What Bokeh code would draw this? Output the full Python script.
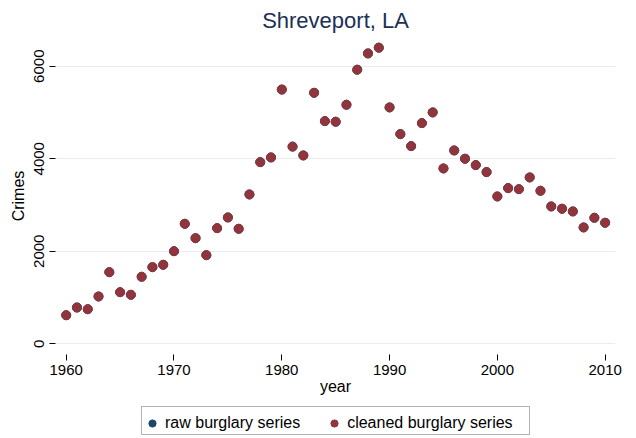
from bokeh.plotting import figure
from bokeh.layouts import column
from bokeh.models import FixedTicker, Range1d, Legend, LegendItem, BoxAnnotation
from bokeh.embed import file_html
from bokeh.resources import INLINE

years = list(range(1960, 2011))
cleaned_burglary = [618, 785, 748, 1023, 1548, 1116, 1059, 1449, 1657, 1708,
                    2002, 2594, 2283, 1916, 2500, 2731, 2486, 3228, 3926, 4028,
                    5495, 4262, 4071, 5425, 4813, 4800, 5167, 5924, 6276, 6400,
                    5109, 4532, 4273, 4770, 5001, 3790, 4179, 4000, 3862, 3711,
                    3185, 3365, 3343, 3596, 3308, 2969, 2919, 2861, 2515, 2724,
                    2616]
raw_burglary = list(cleaned_burglary)
x_ticks = [1960, 1970, 1980, 1990, 2000, 2010]
y_ticks = [0, 2000, 4000, 6000]
series_labels = ["raw burglary series", "cleaned burglary series"]
series_colors = ["#1a476f", "#90353b"]

FONT = "Liberation Sans"
LEFT, RIGHT = 55, 21

p = figure(width=636, height=398, output_backend="svg", toolbar_location=None,
           x_range=Range1d(1959.007, 2010.96), y_range=Range1d(-231, 6620),
           min_border_left=LEFT, min_border_right=RIGHT, min_border_top=37,
           min_border_bottom=44, title="Shreveport, LA")
p.outline_line_color = None
p.background_fill_color = "white"
p.border_fill_color = "white"

p.title.align = "center"
p.title.text_font = FONT
p.title.text_font_size = "22px"
p.title.text_font_style = "normal"
p.title.text_color = "#1c2f55"

r_raw = p.scatter(years, raw_burglary, size=9, marker="circle",
                  fill_color=series_colors[0], line_color=series_colors[0])
r_clean = p.scatter(years, cleaned_burglary, size=9, marker="circle",
                    fill_color=series_colors[1], line_color=series_colors[1])

p.xgrid.grid_line_color = None
p.ygrid.grid_line_color = "#e6eef0"
p.ygrid.grid_line_width = 1.2

for ax in (p.xaxis[0], p.yaxis[0]):
    ax.axis_line_color = None
    ax.minor_tick_line_color = None
    ax.major_tick_in = 0
    ax.major_tick_out = 6
    ax.major_tick_line_color = "black"
    ax.major_label_text_font = FONT
    ax.major_label_text_font_size = "15px"
    ax.major_label_text_color = "black"
    ax.axis_label_text_font = FONT
    ax.axis_label_text_font_size = "16px"
    ax.axis_label_text_font_style = "normal"
    ax.axis_label_text_color = "black"

p.xaxis[0].ticker = FixedTicker(ticks=x_ticks)
p.yaxis[0].ticker = FixedTicker(ticks=y_ticks)
p.xgrid.ticker = FixedTicker(ticks=x_ticks)
p.ygrid.ticker = FixedTicker(ticks=y_ticks)
p.xaxis[0].axis_label = "year"
p.yaxis[0].axis_label = "Crimes"
p.yaxis[0].major_label_orientation = "vertical"
p.xaxis[0].major_label_standoff = 4
p.xaxis[0].axis_label_standoff = 0
p.yaxis[0].major_label_standoff = 5
p.yaxis[0].axis_label_standoff = 5

# Legend strip below the plot; its frame matches the plot's frame and
# its ranges are set so that 1 unit = 1 screen pixel.
lf = figure(width=636, height=40, output_backend="svg", toolbar_location=None,
            x_range=Range1d(LEFT, 636 - RIGHT), y_range=Range1d(0, 40),
            x_axis_location=None, y_axis_location=None,
            min_border_left=LEFT, min_border_right=RIGHT,
            min_border_top=0, min_border_bottom=0, outline_line_color=None)
lf.grid.visible = False
l_raw = lf.scatter(years, raw_burglary, size=9, marker="circle",
                   fill_color=series_colors[0], line_color=series_colors[0])
l_clean = lf.scatter(years, cleaned_burglary, size=9, marker="circle",
                     fill_color=series_colors[1], line_color=series_colors[1])

legend_box = BoxAnnotation(left=141, right=529, bottom=4, top=32,
                           fill_color="white", fill_alpha=1,
                           line_color="black", line_width=1)
lf.add_layout(legend_box)

legend = Legend(items=[LegendItem(label=series_labels[0], renderers=[l_raw]),
                       LegendItem(label=series_labels[1], renderers=[l_clean])],
                orientation="horizontal", location=(143 - LEFT, 5))
legend.border_line_color = None
legend.background_fill_alpha = 0
legend.label_text_font = FONT
legend.label_text_font_size = "16px"
legend.label_text_color = "black"
legend.glyph_width = 18
legend.glyph_height = 20
legend.label_standoff = 4
legend.spacing = 25
legend.padding = 4
legend.margin = 0
lf.add_layout(legend, "center")

layout = column(p, lf, spacing=0)
open("out.html", "w").write(file_html(layout, INLINE))
